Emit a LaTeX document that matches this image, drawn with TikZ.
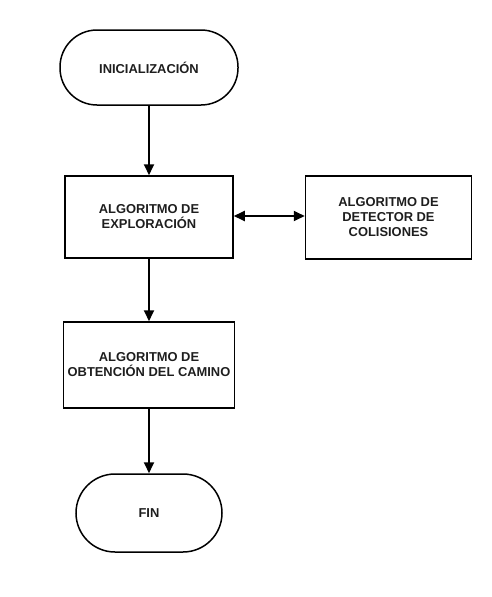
\documentclass[tikz,border=0pt]{standalone}
\usepackage{fontspec}
\setmainfont{Liberation Sans}
\usetikzlibrary{arrows.meta}
\definecolor{txt}{RGB}{30,30,30}
\tikzset{
  box/.style={draw=black, line width=1.5pt, rectangle, inner sep=0pt, align=center,
    font=\fontsize{12.9}{15}\selectfont\bfseries, text=txt},
  term/.style={box, rounded corners=#1},
  arr/.style={line width=1.8pt, -{Triangle[width=10pt,length=11pt]}},
  darr/.style={line width=1.8pt, {Triangle[width=10pt,length=11pt]}-{Triangle[width=10pt,length=11pt]}}
}
\begin{document}
\begin{tikzpicture}[x=1pt,y=-1pt]
\useasboundingbox (0,0) rectangle (491,597);
\node[term=37pt, minimum width=178pt, minimum height=75pt] (ini) at (149,67.5) {INICIALIZACIÓN};
\node[box, minimum width=168pt, minimum height=82pt] (exp) at (149,217) {ALGORITMO DE\\EXPLORACIÓN};
\node[box, minimum width=166pt, minimum height=83pt] (col) at (388.5,217.5) {ALGORITMO DE\\DETECTOR DE\\COLISIONES};
\node[box, minimum width=171pt, minimum height=86pt] (obt) at (149,365) {ALGORITMO DE\\OBTENCIÓN DEL CAMINO};
\node[term=39pt, minimum width=146pt, minimum height=78pt] (fin) at (149,513) {FIN};
\draw[arr] (ini) -- (exp);
\draw[arr] (exp) -- (obt);
\draw[arr] (obt) -- (fin);
\draw[darr] (exp.east |- 0,216) -- (col.west |- 0,216);
\end{tikzpicture}
\end{document}
